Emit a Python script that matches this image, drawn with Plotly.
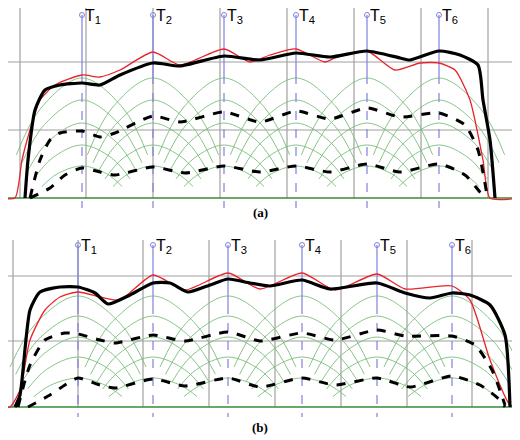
import plotly.graph_objects as go

# ---------- panel (a) ----------
A_BASE = 198
A_GRID_X = [20, 86, 153, 220, 287, 354, 421, 488]
A_GRID_Y = [62, 130]
A_T_X = [82, 153, 224, 296, 367, 439]
A_RED_X = [0, 15, 22, 30, 40, 55, 82, 100, 120, 153, 180, 224, 250, 270, 296, 325, 335, 367, 395, 420, 439, 455, 470, 483, 490, 520]
A_RED_Y = [198, 198, 160, 130, 100, 85, 75, 77, 70, 52, 65, 49, 62, 55, 49, 62, 58, 51, 70, 63, 63, 70, 100, 160, 198, 198]
A_BLK_X = [25, 28, 35, 45, 60, 82, 100, 120, 153, 180, 224, 260, 296, 330, 367, 400, 410, 439, 460, 478, 483, 490, 495]
A_BLK_Y = [198, 160, 110, 90, 85, 83, 85, 75, 63, 66, 56, 60, 53, 57, 51, 58, 60, 51, 55, 65, 100, 140, 198]
A_MID_X = [30, 40, 50, 60, 82, 100, 115, 153, 180, 224, 260, 296, 330, 367, 400, 439, 465, 478, 487]
A_MID_Y = [198, 160, 140, 133, 131, 137, 133, 116, 122, 112, 122, 111, 119, 108, 117, 113, 125, 150, 195]
A_LOW_X = [30, 50, 65, 82, 100, 115, 153, 185, 224, 260, 296, 330, 367, 400, 439, 465, 480, 487]
A_LOW_Y = [198, 188, 175, 168, 172, 175, 167, 173, 166, 172, 166, 172, 164, 172, 164, 175, 192, 198]
A_ARC_PEAKS = [166, 145, 123, 100, 78]
A_ARC_HALFW = [50, 60, 68, 75, 82]

# ---------- panel (b) ----------
B_BASE = 407
B_GRID_X = [13, 78, 143, 209, 275, 341, 407, 472]
B_GRID_Y = [276, 341]
B_T_X = [78, 153, 228, 302, 377, 452]
B_RED_X = [0, 10, 20, 30, 45, 60, 78, 100, 120, 153, 185, 228, 260, 302, 335, 377, 405, 452, 470, 490, 510, 520]
B_RED_Y = [407, 407, 390, 340, 310, 297, 292, 297, 300, 275, 290, 273, 289, 273, 290, 274, 289, 286, 300, 360, 405, 407]
B_BLK_X = [15, 20, 30, 40, 60, 78, 95, 108, 130, 153, 170, 188, 210, 228, 250, 270, 302, 330, 377, 405, 430, 452, 470, 490, 505, 510]
B_BLK_Y = [407, 395, 310, 292, 287, 287, 293, 304, 295, 283, 283, 292, 285, 279, 283, 286, 280, 289, 283, 293, 298, 293, 295, 305, 335, 407]
B_MID_X = [18, 30, 45, 65, 78, 100, 115, 153, 185, 228, 260, 302, 335, 377, 405, 452, 475, 492, 505]
B_MID_Y = [407, 365, 340, 333, 334, 340, 343, 335, 341, 332, 341, 333, 340, 330, 336, 336, 345, 370, 405]
B_LOW_X = [28, 50, 65, 78, 100, 115, 153, 185, 228, 260, 302, 335, 377, 410, 452, 480, 500, 505]
B_LOW_Y = [407, 395, 385, 378, 385, 388, 379, 386, 378, 387, 378, 385, 378, 387, 376, 385, 400, 407]
B_ARC_PEAKS = [378, 357, 337, 316, 296]
B_ARC_HALFW = [55, 63, 70, 78, 85]

fig = go.Figure()

def line(x, y, color, width, dash="solid", shape="linear", smooth=1.0):
    fig.add_trace(go.Scatter(x=x, y=y, mode="lines", hoverinfo="skip",
                             line=dict(color=color, width=width, dash=dash, shape=shape,
                                       smoothing=smooth)))

def panel(base, gx, gy, top, tx, red, blk, mid, low, peaks, halfw, tick_top):
    for x in gx:
        line([x, x], [top, base], "#a0a0a0", 1.2)
    for y in gy:
        line([0, 520], [y, y], "#a0a0a0", 1.2)
    for c in tx:
        for p, w in zip(peaks, halfw):
            f = 0.8
            ye = p + (base - p) * f * f
            line([c - f * w, c - 0.5 * w, c, c + 0.5 * w, c + f * w],
                 [ye, p + (base - p) * 0.25, p, p + (base - p) * 0.25, ye],
                 "#7cbd7c", 0.9, shape="spline")
    line([0, 520], [base, base], "#3a8a3a", 1.5)
    for c in tx:
        line([c, c], [tick_top, tick_top + 60], "#8080e0", 1.2)
        line([c, c], [tick_top + 60, base + 10], "#8080e0", 1.2, dash="dash")
        fig.add_trace(go.Scatter(x=[c], y=[tick_top], mode="markers", hoverinfo="skip",
                                 marker=dict(symbol="circle-open", size=5, color="#8080e0")))
    for i, c in enumerate(tx):
        fig.add_annotation(x=c + 1, y=tick_top + 1, text=f"T<sub>{i+1}</sub>", showarrow=False,
                           xanchor="left", yanchor="middle",
                           font=dict(family="Liberation Sans", size=16, color="black"))
    line(red[0], red[1], "#e8232a", 1.3, shape="spline", smooth=0.6)
    line(mid[0], mid[1], "black", 3, dash="dash", shape="spline", smooth=0.6)
    line(low[0], low[1], "black", 3, dash="dash", shape="spline", smooth=0.6)
    line(blk[0], blk[1], "black", 3.2, shape="spline", smooth=0.6)

panel(A_BASE, A_GRID_X, A_GRID_Y, 0, A_T_X, (A_RED_X, A_RED_Y), (A_BLK_X, A_BLK_Y),
      (A_MID_X, A_MID_Y), (A_LOW_X, A_LOW_Y), A_ARC_PEAKS, A_ARC_HALFW, 15)
panel(B_BASE, B_GRID_X, B_GRID_Y, 240, B_T_X, (B_RED_X, B_RED_Y), (B_BLK_X, B_BLK_Y),
      (B_MID_X, B_MID_Y), (B_LOW_X, B_LOW_Y), B_ARC_PEAKS, B_ARC_HALFW, 245)

for txt, y in [("(a)", 212), ("(b)", 427)]:
    fig.add_annotation(x=260, y=y, text=f"<b>{txt}</b>", showarrow=False,
                       font=dict(family="Liberation Serif", size=13, color="black"))

# the page body adds an 8px margin, so the axis ranges are offset by 8
fig.update_layout(width=520, height=440, margin=dict(l=0, r=0, t=0, b=0),
                  showlegend=False, plot_bgcolor="white", paper_bgcolor="white",
                  xaxis=dict(range=[8, 528], visible=False, fixedrange=True),
                  yaxis=dict(range=[448, 8], visible=False, fixedrange=True))
fig.write_html("out.html")
